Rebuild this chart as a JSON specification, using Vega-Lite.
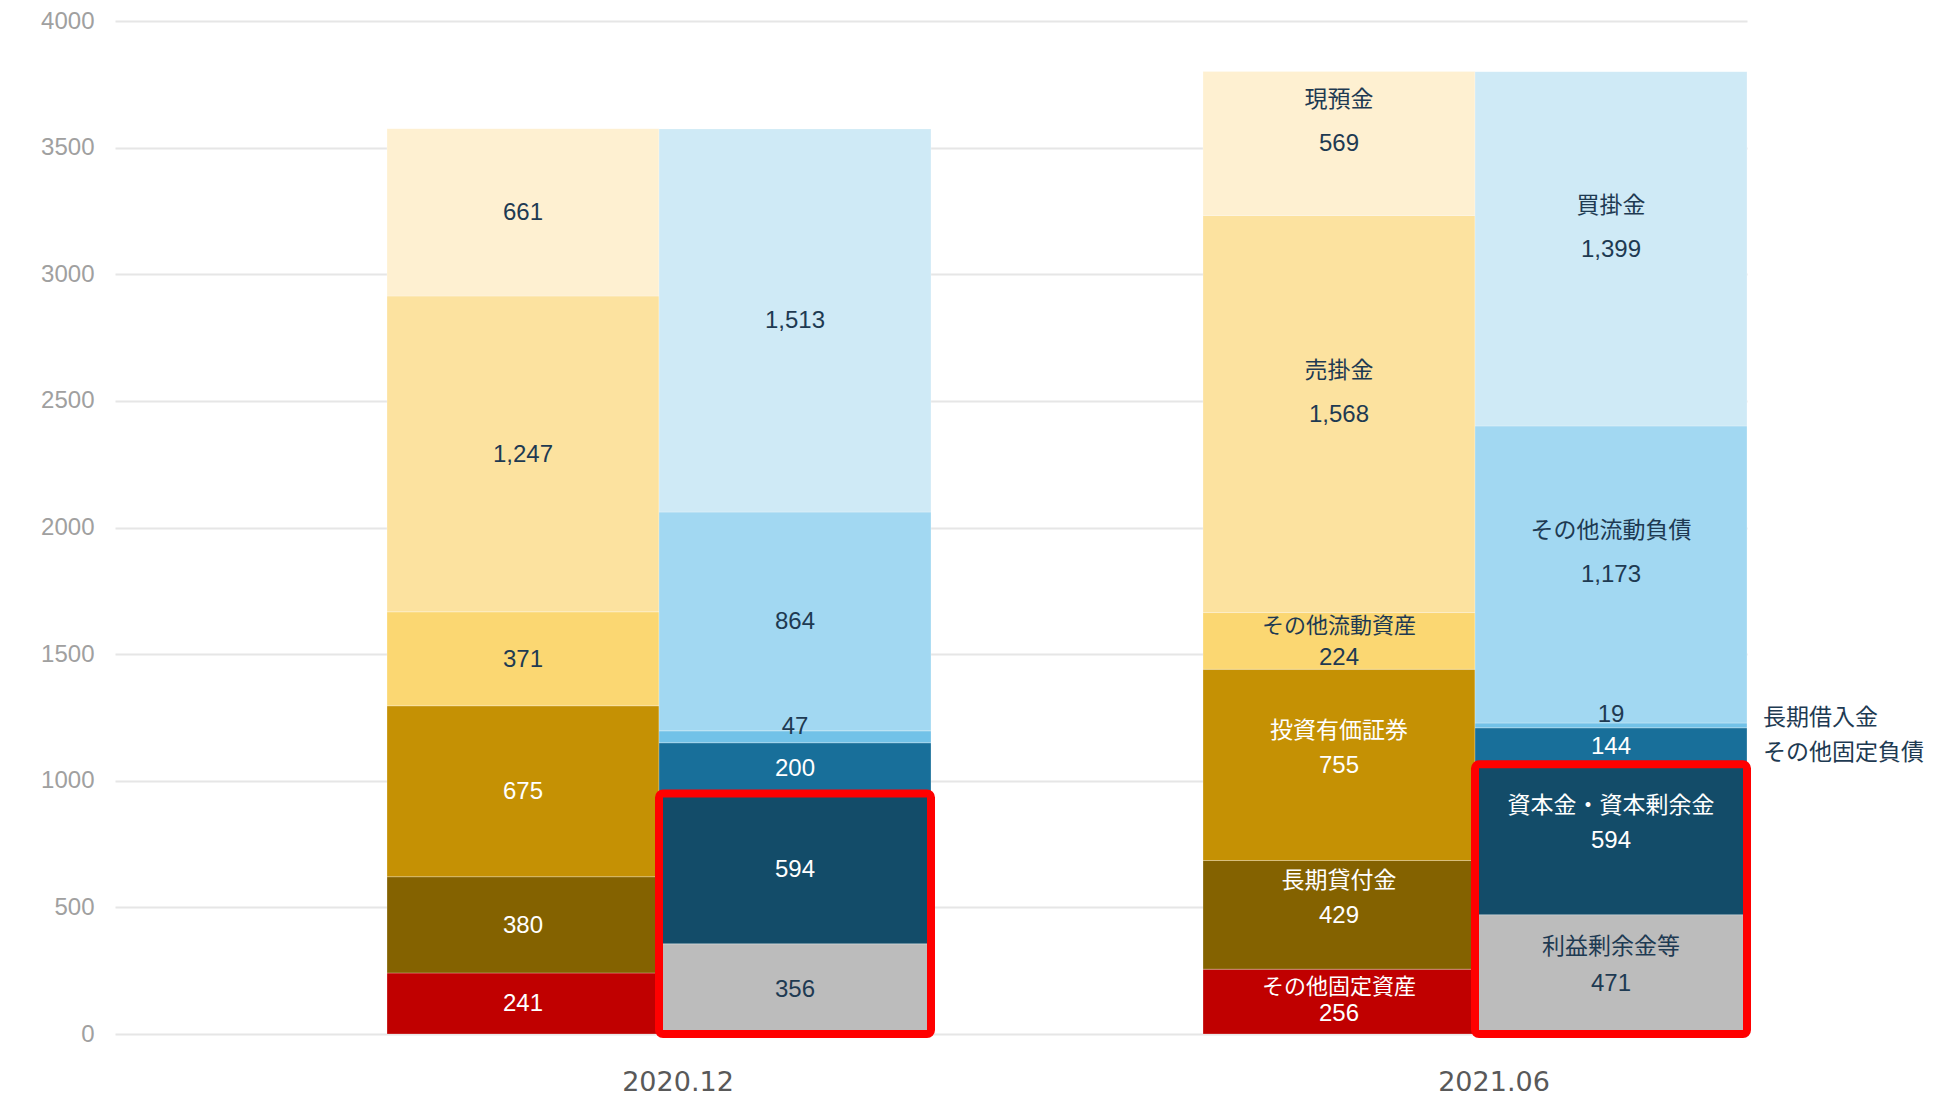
{
  "$schema": "https://vega.github.io/schema/vega-lite/v6.json",
  "width": 1632,
  "height": 1013,
  "autosize": {"type": "none"},
  "padding": {"left": 115, "top": 21, "right": 186, "bottom": 65},
  "background": "white",
  "config": {
    "view": {"stroke": null},
    "axisY": {"tickCount": 8, "domain": false, "ticks": false, "gridColor": "#E6E6E6", "gridWidth": 2, "labelFont": "Liberation Sans", "labelFontSize": 24, "labelColor": "#A0A0A0", "labelPadding": 21, "format": "d"}
  },
  "datasets": {
    "bs": [
      {"date": "2020.12", "side": "資産", "item": "その他固定資産", "value": 241, "ord": 1},
      {"date": "2020.12", "side": "資産", "item": "長期貸付金", "value": 380, "ord": 2},
      {"date": "2020.12", "side": "資産", "item": "投資有価証券", "value": 675, "ord": 3},
      {"date": "2020.12", "side": "資産", "item": "その他流動資産", "value": 371, "ord": 4},
      {"date": "2020.12", "side": "資産", "item": "売掛金", "value": 1247, "ord": 5},
      {"date": "2020.12", "side": "資産", "item": "現預金", "value": 661, "ord": 6},
      {"date": "2020.12", "side": "負債", "item": "利益剰余金等", "value": 356, "ord": 1},
      {"date": "2020.12", "side": "負債", "item": "資本金・資本剰余金", "value": 594, "ord": 2},
      {"date": "2020.12", "side": "負債", "item": "その他固定負債", "value": 200, "ord": 3},
      {"date": "2020.12", "side": "負債", "item": "長期借入金", "value": 47, "ord": 4},
      {"date": "2020.12", "side": "負債", "item": "その他流動負債", "value": 864, "ord": 5},
      {"date": "2020.12", "side": "負債", "item": "買掛金", "value": 1513, "ord": 6},
      {"date": "2021.06", "side": "資産", "item": "その他固定資産", "value": 256, "ord": 1},
      {"date": "2021.06", "side": "資産", "item": "長期貸付金", "value": 429, "ord": 2},
      {"date": "2021.06", "side": "資産", "item": "投資有価証券", "value": 755, "ord": 3},
      {"date": "2021.06", "side": "資産", "item": "その他流動資産", "value": 224, "ord": 4},
      {"date": "2021.06", "side": "資産", "item": "売掛金", "value": 1568, "ord": 5},
      {"date": "2021.06", "side": "資産", "item": "現預金", "value": 569, "ord": 6},
      {"date": "2021.06", "side": "負債", "item": "利益剰余金等", "value": 471, "ord": 1},
      {"date": "2021.06", "side": "負債", "item": "資本金・資本剰余金", "value": 594, "ord": 2},
      {"date": "2021.06", "side": "負債", "item": "その他固定負債", "value": 144, "ord": 3},
      {"date": "2021.06", "side": "負債", "item": "長期借入金", "value": 19, "ord": 4},
      {"date": "2021.06", "side": "負債", "item": "その他流動負債", "value": 1173, "ord": 5},
      {"date": "2021.06", "side": "負債", "item": "買掛金", "value": 1399, "ord": 6}
    ],
    "box": [
      {"date": "2020.12", "side": "負債", "equity": 950},
      {"date": "2021.06", "side": "負債", "equity": 1065}
    ]
  },
  "data": {"name": "bs"},
  "encoding": {
    "x": {
      "field": "date", "type": "nominal", "title": null,
      "scale": {"domain": ["2020.12", "2021.06"], "paddingInner": 0, "paddingOuter": 0},
      "axis": {"domain": false, "ticks": false, "grid": false, "labelAngle": 0, "labelFont": "DejaVu Sans", "labelFontSize": 27, "labelColor": "#595959", "labelOffset": 155, "labelPadding": 35}
    },
    "xOffset": {
      "field": "side", "type": "nominal",
      "scale": {"domain": ["空", "資産", "負債"], "paddingInner": 0, "paddingOuter": 0}
    }
  },
  "layer": [
    {
      "mark": {"type": "bar", "stroke": "#ffffff", "strokeOpacity": 0.25, "strokeWidth": 1},
      "encoding": {
        "y": {"field": "value", "type": "quantitative", "stack": "zero", "title": null, "scale": {"domain": [0, 4000], "nice": false}},
        "color": {
          "field": "item", "type": "nominal", "legend": null,
          "scale": {
            "domain": ["その他固定資産", "長期貸付金", "投資有価証券", "その他流動資産", "売掛金", "現預金", "利益剰余金等", "資本金・資本剰余金", "その他固定負債", "長期借入金", "その他流動負債", "買掛金"],
            "range": ["#C00000", "#846200", "#C59104", "#FBD772", "#FCE29F", "#FEF0D1", "#BCBCBC", "#134C69", "#186F9A", "#72C2E8", "#A2D8F2", "#CFEAF6"]
          }
        },
        "order": {"field": "ord", "type": "quantitative"}
      }
    },
    {
      "data": {"name": "box"},
      "mark": {"type": "rect", "fill": null, "fillOpacity": 0, "stroke": "#FF0000", "strokeWidth": 8, "cornerRadius": 4},
      "encoding": {
        "y": {"field": "equity", "type": "quantitative", "title": null},
        "y2": {"datum": 0}
      }
    },
    {
      "mark": {"type": "text", "baseline": "middle", "align": "center", "font": "Liberation Sans", "fontSize": 24, "dy": 1},
      "encoding": {
        "y": {"field": "value", "type": "quantitative", "stack": "zero", "bandPosition": 0.5, "title": null},
        "detail": {"field": "item"},
        "order": {"field": "ord", "type": "quantitative"},
        "text": {"condition": {"test": "!(datum.item == '長期借入金' || (datum.date == '2021.06' && indexof(['その他流動資産','その他固定資産','利益剰余金等'], datum.item) >= 0))", "field": "value", "type": "quantitative", "format": ","}, "value": ""},
        "color": {"condition": {"test": "indexof(['投資有価証券','長期貸付金','その他固定資産','その他固定負債','資本金・資本剰余金'], datum.item) >= 0", "value": "#ffffff"}, "value": "#1E3A52"}
      }
    },
    {
      "mark": {"type": "text", "baseline": "middle", "align": "center", "font": "Liberation Sans", "fontSize": 24, "dy": -10},
      "encoding": {
        "y": {"field": "value", "type": "quantitative", "stack": "zero", "bandPosition": 0.5, "title": null},
        "detail": {"field": "item"},
        "order": {"field": "ord", "type": "quantitative"},
        "text": {"condition": {"test": "datum.item == '長期借入金'", "field": "value", "type": "quantitative", "format": ","}, "value": ""},
        "color": {"value": "#1E3A52"}
      }
    },
    {
      "mark": {"type": "text", "baseline": "middle", "align": "center", "font": "Liberation Sans", "fontSize": 24, "dy": 17},
      "encoding": {
        "y": {"field": "value", "type": "quantitative", "stack": "zero", "bandPosition": 0.5, "title": null},
        "detail": {"field": "item"},
        "order": {"field": "ord", "type": "quantitative"},
        "text": {"condition": {"test": "datum.date == '2021.06' && datum.item == 'その他流動資産'", "field": "value", "type": "quantitative", "format": ","}, "value": ""},
        "color": {"value": "#1E3A52"}
      }
    },
    {
      "mark": {"type": "text", "baseline": "middle", "align": "center", "font": "Liberation Sans", "fontSize": 24, "dy": 12},
      "encoding": {
        "y": {"field": "value", "type": "quantitative", "stack": "zero", "bandPosition": 0.5, "title": null},
        "detail": {"field": "item"},
        "order": {"field": "ord", "type": "quantitative"},
        "text": {"condition": {"test": "datum.date == '2021.06' && datum.item == 'その他固定資産'", "field": "value", "type": "quantitative", "format": ","}, "value": ""},
        "color": {"value": "#ffffff"}
      }
    },
    {
      "mark": {"type": "text", "baseline": "middle", "align": "center", "font": "Liberation Sans", "fontSize": 24, "dy": 10},
      "encoding": {
        "y": {"field": "value", "type": "quantitative", "stack": "zero", "bandPosition": 0.5, "title": null},
        "detail": {"field": "item"},
        "order": {"field": "ord", "type": "quantitative"},
        "text": {"condition": {"test": "datum.date == '2021.06' && datum.item == '利益剰余金等'", "field": "value", "type": "quantitative", "format": ","}, "value": ""},
        "color": {"value": "#1E3A52"}
      }
    },
    {
      "mark": {"type": "text", "baseline": "middle", "align": "center", "font": "Noto Sans CJK JP", "fontSize": 23, "dy": -43},
      "encoding": {
        "y": {"field": "value", "type": "quantitative", "stack": "zero", "bandPosition": 0.5, "title": null},
        "detail": {"field": "item"},
        "order": {"field": "ord", "type": "quantitative"},
        "text": {"condition": {"test": "datum.date == '2021.06' && indexof(['現預金','売掛金','買掛金','その他流動負債'], datum.item) >= 0", "field": "item", "type": "nominal"}, "value": ""},
        "color": {"value": "#1E3A52"}
      }
    },
    {
      "mark": {"type": "text", "baseline": "middle", "align": "center", "font": "Noto Sans CJK JP", "fontSize": 23, "dy": -34},
      "encoding": {
        "y": {"field": "value", "type": "quantitative", "stack": "zero", "bandPosition": 0.5, "title": null},
        "detail": {"field": "item"},
        "order": {"field": "ord", "type": "quantitative"},
        "text": {"condition": {"test": "datum.date == '2021.06' && indexof(['投資有価証券','長期貸付金','資本金・資本剰余金'], datum.item) >= 0", "field": "item", "type": "nominal"}, "value": ""},
        "color": {"value": "#ffffff"}
      }
    },
    {
      "mark": {"type": "text", "baseline": "middle", "align": "center", "font": "Noto Sans CJK JP", "fontSize": 23, "dy": -27},
      "encoding": {
        "y": {"field": "value", "type": "quantitative", "stack": "zero", "bandPosition": 0.5, "title": null},
        "detail": {"field": "item"},
        "order": {"field": "ord", "type": "quantitative"},
        "text": {"condition": {"test": "datum.date == '2021.06' && datum.item == '利益剰余金等'", "field": "item", "type": "nominal"}, "value": ""},
        "color": {"value": "#1E3A52"}
      }
    },
    {
      "mark": {"type": "text", "baseline": "middle", "align": "center", "font": "Noto Sans CJK JP", "fontSize": 22, "dy": -15},
      "encoding": {
        "y": {"field": "value", "type": "quantitative", "stack": "zero", "bandPosition": 0.5, "title": null},
        "detail": {"field": "item"},
        "order": {"field": "ord", "type": "quantitative"},
        "text": {"condition": {"test": "datum.date == '2021.06' && indexof(['その他流動資産','その他固定資産'], datum.item) >= 0", "field": "item", "type": "nominal"}, "value": ""},
        "color": {"condition": {"test": "datum.item == 'その他固定資産'", "value": "#ffffff"}, "value": "#1E3A52"}
      }
    },
    {
      "mark": {"type": "text", "baseline": "middle", "align": "left", "font": "Noto Sans CJK JP", "fontSize": 23, "dx": 152, "dy": -7},
      "encoding": {
        "y": {"field": "value", "type": "quantitative", "stack": "zero", "bandPosition": 0.5, "title": null},
        "detail": {"field": "item"},
        "order": {"field": "ord", "type": "quantitative"},
        "text": {"condition": {"test": "datum.date == '2021.06' && datum.item == '長期借入金'", "field": "item", "type": "nominal"}, "value": ""},
        "color": {"value": "#1E3A52"}
      }
    },
    {
      "mark": {"type": "text", "baseline": "middle", "align": "left", "font": "Noto Sans CJK JP", "fontSize": 23, "dx": 152, "dy": 7},
      "encoding": {
        "y": {"field": "value", "type": "quantitative", "stack": "zero", "bandPosition": 0.5, "title": null},
        "detail": {"field": "item"},
        "order": {"field": "ord", "type": "quantitative"},
        "text": {"condition": {"test": "datum.date == '2021.06' && datum.item == 'その他固定負債'", "field": "item", "type": "nominal"}, "value": ""},
        "color": {"value": "#1E3A52"}
      }
    }
  ]
}
